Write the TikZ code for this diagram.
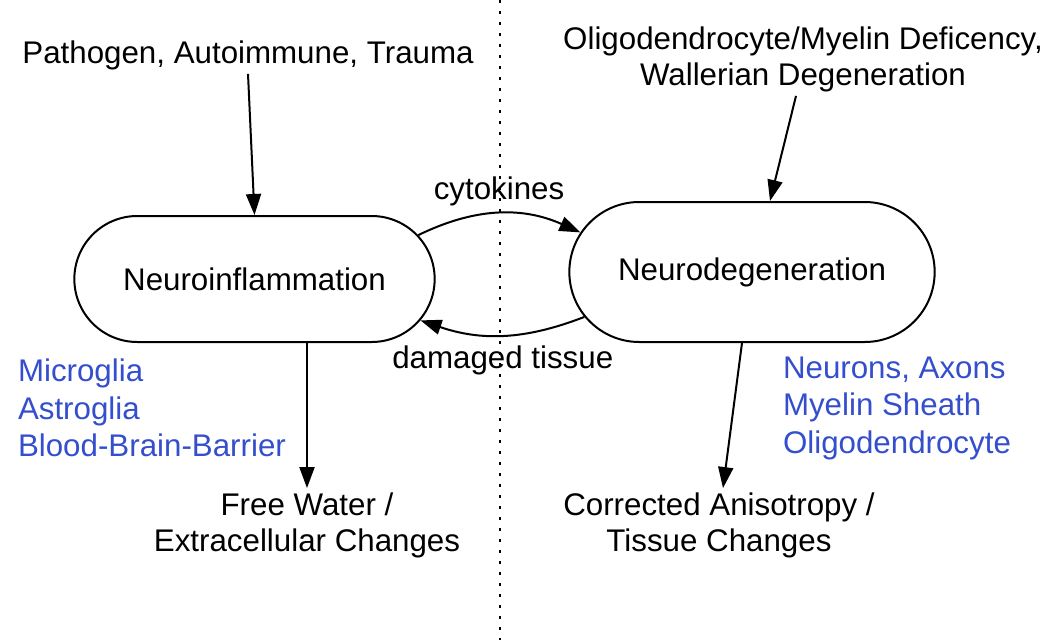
\documentclass[tikz,border=0pt]{standalone}
\usepackage{fontspec}
\setmainfont{Liberation Sans}
\usetikzlibrary{shapes.misc,arrows.meta}
\definecolor{cellblue}{RGB}{52,78,205}
\tikzset{
  stage/.style={draw, rounded rectangle, line width=2pt, minimum width=367pt, minimum height=126pt},
  cell/.style={text=cellblue, align=left, inner sep=0pt, font=\fontsize{31.3}{37.5}\selectfont},
}
\begin{document}
\begin{tikzpicture}[x=1pt, y=1pt, line width=2pt, >={Triangle[length=21pt,width=15pt]},
    every node/.style={font=\fontsize{31.3}{36}\selectfont}]
    \useasboundingbox (0,0) rectangle (1050,-640);

    % divider
    \coordinate (top) at (500,0);
    \coordinate (bot) at (500,-640);
    \draw[line width=2.5pt, dash pattern=on 2.5pt off 8.5pt] (top) -- (bot);

    \node[stage] (infl) at (254.5,-279) {Neuroinflammation};
    \node[stage, minimum width=372pt, minimum height=140pt] (degen) at (752,-272) {Neurodegeneration};

    \node (trig) at (248,-55) {Pathogen, Autoimmune, Trauma};
    \node[align=center] (myel) at (803,-59) {Oligodendrocyte/Myelin Deficency,\\Wallerian Degeneration};

    \node[cell, anchor=west] (glia) at (17,-408) {Microglia\\Astroglia\\Blood-Brain-Barrier};
    \node[cell, anchor=west] (neur) at (782,-408) {Neurons, Axons\\Myelin Sheath\\Oligodendrocyte};

    \node[align=center] (water) at (307,-525) {Free Water /\\Extracellular Changes};
    \node[align=center] (aniso) at (719,-525) {Corrected Anisotropy /\\Tissue Changes};

    \draw[->] (trig.south) -- (infl.north);
    \draw[->] ([xshift=-7pt]myel.south) -- ([xshift=18pt]degen.north);
    \draw[->] ([xshift=52.5pt]infl.south) -- (water.north);
    \draw[->] ([xshift=-10pt]degen.south) -- ([xshift=4pt]aniso.north);

    \path[->] (infl.15) edge [bend left=25] node[above=3pt]{cytokines} (degen.167);
    \path[->] (degen.195) edge [bend left=20] node[below=6pt]{damaged tissue} (infl.-14);
  \end{tikzpicture}
\end{document}
